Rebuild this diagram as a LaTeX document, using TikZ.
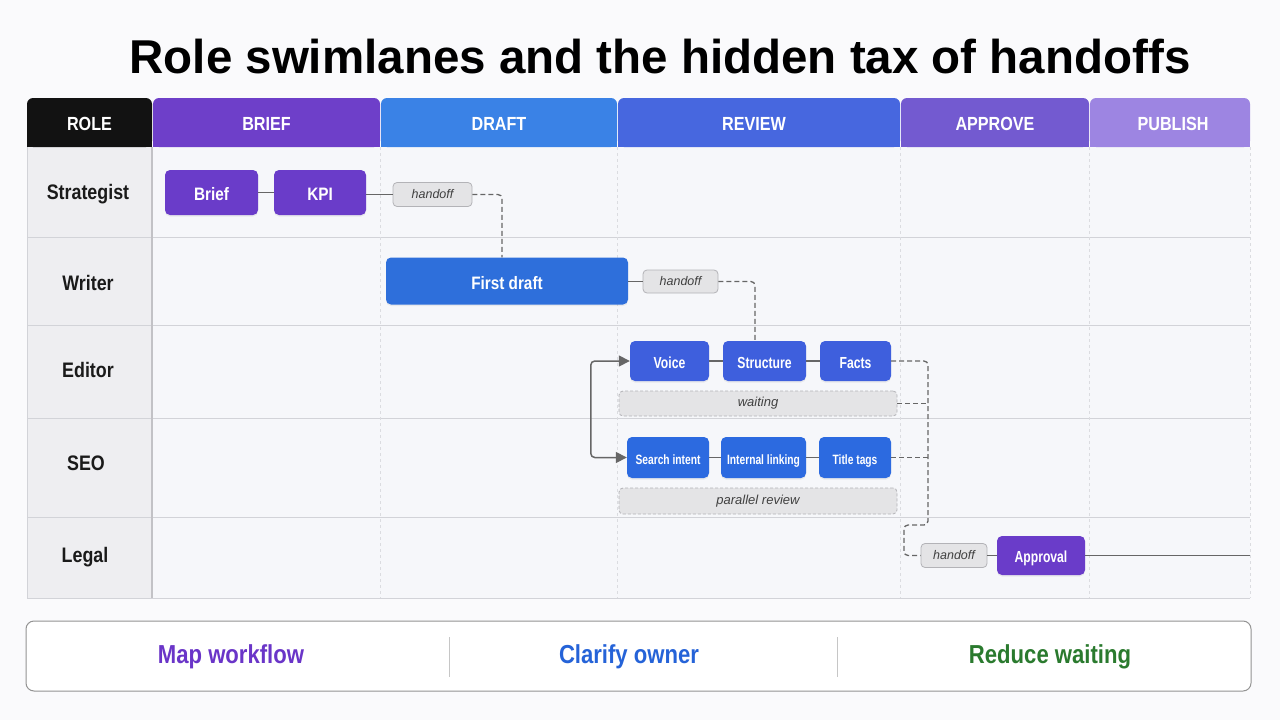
\documentclass[tikz,border=0pt]{standalone}
\usepackage{fontspec}
\setmainfont{Liberation Sans}
\newfontfamily\condf{Liberation Sans}[FakeStretch=0.85]
\newfontfamily\condg{Liberation Sans}[FakeStretch=0.76]
\usetikzlibrary{shadows,arrows.meta}
\definecolor{pagebg}{HTML}{FAFAFC}
\definecolor{bodybg}{HTML}{F6F7FA}
\definecolor{rolebg}{HTML}{EEEEF1}
\definecolor{gridc}{HTML}{D2D3D8}
\definecolor{hRole}{HTML}{121212}
\definecolor{hBrief}{HTML}{6E3FC9}
\definecolor{hDraft}{HTML}{3A82E6}
\definecolor{hReview}{HTML}{4767DF}
\definecolor{hApprove}{HTML}{735AD0}
\definecolor{hPublish}{HTML}{9D85E2}
\definecolor{cPurple}{HTML}{6A3CC9}
\definecolor{cBlue}{HTML}{2E6FDB}
\definecolor{cRoyal}{HTML}{3E5FDD}
\definecolor{cSeo}{HTML}{2C6AE0}
\definecolor{linec}{HTML}{666666}
\definecolor{hofill}{HTML}{E4E4E6}
\definecolor{hodraw}{HTML}{B3B3B7}
\definecolor{txtdark}{HTML}{1A1A1A}
\definecolor{txtgray}{HTML}{404040}
\definecolor{mapc}{HTML}{6A35C8}
\definecolor{ownc}{HTML}{2563D8}
\definecolor{waitc}{HTML}{2A7A2E}
\begin{document}
\begin{tikzpicture}[x=1pt,y=-1pt,
  headtext/.style={text=white,font=\condf\bfseries\fontsize{19}{22}\selectfont},
  rolelabel/.style={text=txtdark,font=\condf\bfseries\fontsize{21}{24}\selectfont},
  task/.style={rectangle,rounded corners=5pt,inner sep=0pt,text=white,text depth=0pt,
     drop shadow={opacity=0.12,shadow xshift=0pt,shadow yshift=-1.5pt}},
  bigtask/.style={task,text height=16.5pt,font=\condf\bfseries\fontsize{18}{21}\selectfont},
  midtask/.style={task,text height=14.5pt,font=\condg\bfseries\fontsize{16}{19}\selectfont},
  smalltask/.style={task,text height=13.5pt,font=\condg\bfseries\fontsize{13.5}{16}\selectfont},
  handoffbox/.style={rectangle,rounded corners=4pt,inner sep=0pt,fill=hofill,draw=hodraw,line width=0.8pt,
     text=txtgray,font=\itshape\fontsize{12.5}{14}\selectfont},
  waitbar/.style={rectangle,rounded corners=4pt,inner sep=0pt,fill=hofill,draw=hodraw,line width=0.8pt,
     dash pattern=on 3pt off 2pt,text=txtgray,font=\itshape\fontsize{13}{15}\selectfont},
  link/.style={draw=linec,line width=1.5pt},
  dlink/.style={draw=linec,line width=1.3pt,dash pattern=on 5pt off 3pt,rounded corners=4pt},
  bottomtext/.style={font=\condf\bfseries\fontsize{26}{30}\selectfont}
]
\useasboundingbox (0,0) rectangle (1280,720);
\fill[pagebg] (0,0) rectangle (1280,720);

% title
\node[font=\bfseries\fontsize{47.5}{52}\selectfont,text=black] (title) at (660,57) {Role swimlanes and the hidden tax of handoffs};

% table body
\fill[bodybg] (152,147) rectangle (1250,598);
\fill[rolebg] (27,147) rectangle (152,598);
\foreach \yy in {237,325,418,517,598} \draw[gridc,line width=1pt] (27,\yy) -- (1250,\yy);
\foreach \xx in {380,617,900,1089,1250} \draw[gridc!80,line width=0.8pt,dash pattern=on 3pt off 3pt] (\xx,147) -- (\xx,598);
\draw[gridc!80!gray,line width=1.2pt] (152,147) -- (152,598);
\draw[gridc,line width=0.8pt] (27,147) -- (27,598);

% headers
\foreach \xa/\xb/\cc in {27/152/hRole,153/380/hBrief,381/617/hDraft,618/900/hReview,901/1089/hApprove,1090/1250/hPublish}{
  \fill[\cc,rounded corners=6pt] (\xa,98) rectangle (\xb,147);
  \fill[\cc] (\xa,125) rectangle (\xb,147);
}
\node[headtext] (hdRole) at (89.5,124) {ROLE};
\node[headtext] (hdBrief) at (266.5,124) {BRIEF};
\node[headtext] (hdDraft) at (499,124) {DRAFT};
\node[headtext] (hdReview) at (754,124) {REVIEW};
\node[headtext] (hdApprove) at (995,124) {APPROVE};
\node[headtext] (hdPublish) at (1173,124) {PUBLISH};

% row labels
\node[rolelabel] (rStrat) at (88,194) {Strategist};
\node[rolelabel] (rWriter) at (88,283) {Writer};
\node[rolelabel] (rEditor) at (88,370) {Editor};
\node[rolelabel] (rSeo) at (86,463) {SEO};
\node[rolelabel] (rLegal) at (85,557) {Legal};

% tasks
\node[bigtask,fill=cPurple,minimum width=93pt,minimum height=45pt] (brief) at (211.5,192.5) {Brief};
\node[bigtask,fill=cPurple,minimum width=92pt,minimum height=45pt] (kpi) at (320,192.5) {KPI};
\node[handoffbox,minimum width=79pt,minimum height=24pt] (ho1) at (432.5,194.5) {handoff};
\node[bigtask,fill=cBlue,minimum width=242pt,minimum height=47pt] (fd) at (507,281) {First draft};
\node[handoffbox,minimum width=75pt,minimum height=23pt] (ho2) at (680.5,281.5) {handoff};
\node[midtask,fill=cRoyal,minimum width=79pt,minimum height=40pt] (voice) at (669.5,361) {Voice};
\node[midtask,fill=cRoyal,minimum width=83pt,minimum height=40pt] (struct) at (764.5,361) {Structure};
\node[midtask,fill=cRoyal,minimum width=71pt,minimum height=40pt] (facts) at (855.5,361) {Facts};
\node[waitbar,minimum width=278pt,minimum height=25pt] (waiting) at (758,403.5) {waiting};
\node[smalltask,fill=cSeo,minimum width=82pt,minimum height=41pt] (search) at (668,457.5) {Search intent};
\node[smalltask,fill=cSeo,minimum width=85pt,minimum height=41pt] (internal) at (763.5,457.5) {Internal linking};
\node[smalltask,fill=cSeo,minimum width=72pt,minimum height=41pt] (ttags) at (855,457.5) {Title tags};
\node[waitbar,minimum width=278pt,minimum height=26pt] (parallel) at (758,501) {parallel review};
\node[handoffbox,minimum width=66pt,minimum height=24pt] (ho3) at (954,555.5) {handoff};
\node[midtask,fill=cPurple,minimum width=88pt,minimum height=39pt] (approval) at (1041,555.5) {Approval};

% coordinates
\coordinate (busTop) at (928,361);
\coordinate (busBot) at (928,525);
\coordinate (jog) at (904,525);
\coordinate (pubEnd) at (1250,555.5);

% connectors
\draw[link] (brief.east) -- (kpi.west);
\draw[link] (kpi.east |- ho1.west) -- (ho1.west);
\draw[dlink] (ho1.east) -| ([xshift=-5pt]fd.north);
\draw[link] (fd.east |- ho2.west) -- (ho2.west);
\draw[dlink] (ho2.east) -| ([xshift=-9.5pt]struct.north);
\draw[link] (voice.east) -- (struct.west);
\draw[link] (struct.east) -- (facts.west);
\draw[link] (search.east) -- (internal.west);
\draw[link] (internal.east) -- (ttags.west);
\draw[link,rounded corners=4pt,{Triangle[length=11pt,width=11pt]}-{Triangle[length=11pt,width=11pt]}] (voice.west) -- ++(-39,0) |- (search.west);
\draw[dlink] (facts.east) -- (busTop) -- (busBot) -- (jog) |- (ho3.west);
\draw[dlink] (waiting.east) -- (busTop |- waiting.east);
\draw[dlink] (ttags.east) -- (busTop |- ttags.east);
\draw[link] (ho3.east) -- (approval.west);
\draw[link] (approval.east) -- (pubEnd);

% bottom bar
\draw[fill=white,draw=gray!85,line width=1pt,rounded corners=8pt] (26,621) rectangle (1251,691);
\draw[gray!45,line width=0.8pt] (449,637) -- (449,677);
\draw[gray!45,line width=0.8pt] (837,637) -- (837,677);
\node[bottomtext,text=mapc] (map) at (231,657) {Map workflow};
\node[bottomtext,text=ownc] (owner) at (629,657) {Clarify owner};
\node[bottomtext,text=waitc] (reduce) at (1050,657) {Reduce waiting};
\end{tikzpicture}
\end{document}
